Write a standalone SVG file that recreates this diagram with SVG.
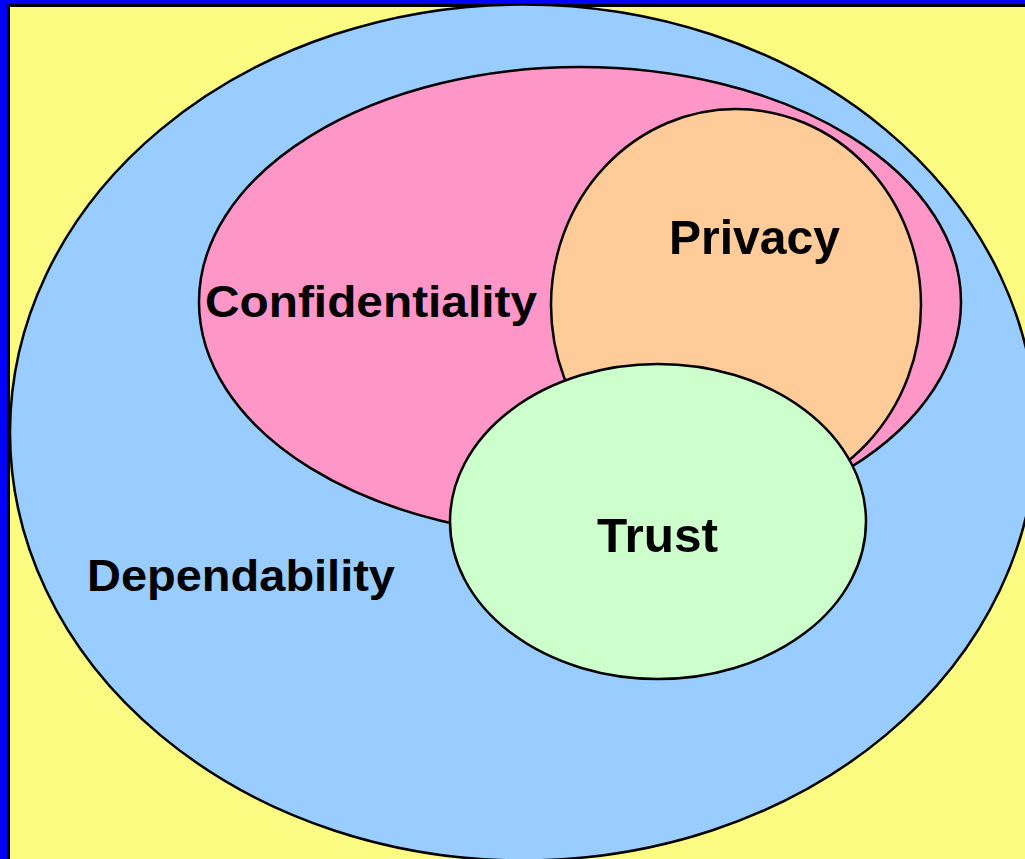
<svg xmlns="http://www.w3.org/2000/svg" width="1025" height="859" viewBox="0 0 1025 859">
<style>
.shape{stroke:#000;stroke-width:2.5}
.lbl{font-family:"Liberation Sans",Arial,Helvetica,sans-serif;font-weight:bold;fill:#000}
</style>
<rect x="0" y="0" width="1025" height="859" fill="#0000FF"/>
<rect x="8.5" y="5.5" width="1030" height="870" fill="#FBFB82" stroke="#000" stroke-width="3"/>
<g id="dependability">
<ellipse class="shape" cx="523" cy="432.5" rx="513" ry="428" fill="#99CCFF"/>
<text class="lbl" x="87" y="591" font-size="44" textLength="308" lengthAdjust="spacingAndGlyphs">Dependability</text>
</g>
<g id="confidentiality">
<ellipse class="shape" cx="580" cy="302" rx="381" ry="235" fill="#FF96C8"/>
<text class="lbl" x="205" y="317" font-size="45" textLength="332" lengthAdjust="spacingAndGlyphs">Confidentiality</text>
</g>
<g id="privacy">
<ellipse class="shape" cx="736" cy="305" rx="185" ry="196" fill="#FFCC99"/>
<text class="lbl" x="669" y="254" font-size="48" textLength="171" lengthAdjust="spacingAndGlyphs">Privacy</text>
</g>
<g id="trust">
<ellipse class="shape" cx="658" cy="521.5" rx="208" ry="157.5" fill="#CCFFCC"/>
<text class="lbl" x="597" y="552" font-size="48" textLength="121" lengthAdjust="spacingAndGlyphs">Trust</text>
</g>
<g id="connectors"/>
</svg>
